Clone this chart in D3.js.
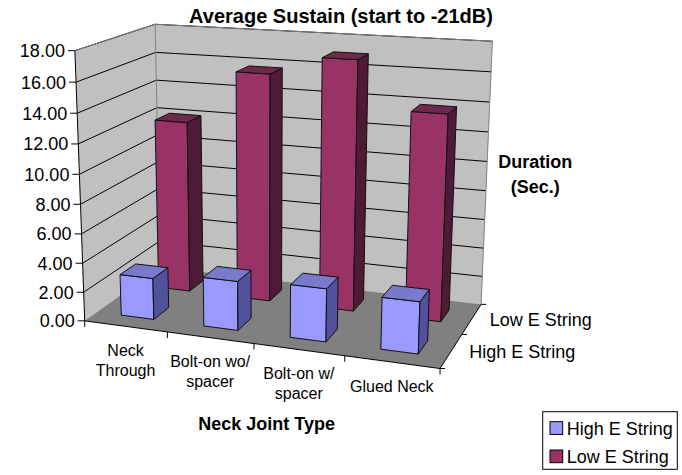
<!DOCTYPE html>
<html><head><meta charset="utf-8">
<script src="https://cdn.jsdelivr.net/npm/d3@7"></script>
<style>body{margin:0;background:#fff} svg{display:block} text{font-family:"Liberation Sans",Arial,sans-serif;fill:#000}</style>
</head><body><svg id="c" width="682" height="475"></svg>
<script>
// ---- data ----
const categories = [["Neck","Through"],["Bolt-on wo/","spacer"],["Bolt-on w/","spacer"],["Glued Neck"]];
const seriesNames = ["High E String","Low E String"];
const highE = [2.85, 3.34, 3.55, 3.42];
const lowE = [12.08, 15.77, 17.05, 13.92];
const valueTicks = [0,2,4,6,8,10,12,14,16,18];
const valueTickLabels = ["0.00","2.00","4.00","6.00","8.00","10.00","12.00","14.00","16.00","18.00"];
const titleText = "Average Sustain (start to -21dB)";
const xTitle = "Neck Joint Type";
const yTitle = ["Duration","(Sec.)"];

// ---- frame calibration (layout: plot-box points in world fractions -> page px) ----
const frameAnchors = [
  [0,0,0, 86.7,320.5],[1,0,0, 441.5,367.5],[1,0,1, 481.7,304],
  [0,1,0, 75,50],[0,1,1, 156,23.5],[1,1,1, 492,42],
  [0,16/18,1, 156,51.7],[0,10/18,1, 156,136.7],[1,10/18,1, 487.2,162],
  [0.25,0,0, 167.3,335],[0.5,0,0, 255,346],[0.75,0,0, 343,357],[1,0,0.5, 463.3,333.3],
  [0.075,0,0.15, 121.3,314.3],[0.175,0,0.15, 152.3,318.8],
  [0.325,0,0.15, 204.3,325],[0.425,0,0.15, 236.7,330],
  [0.575,0,0.15, 290.7,335],[0.675,0,0.15, 325,341.7],
  [0.825,0,0.15, 381,350],[0.925,0,0.15, 416.7,354]
];
const SX=280, SY=200, SS=200;
function gauss(M){
  const n=M.length;
  for(let c=0;c<n;c++){
    let p=c; for(let r=c+1;r<n;r++) if(Math.abs(M[r][c])>Math.abs(M[p][c])) p=r;
    [M[c],M[p]]=[M[p],M[c]];
    for(let r=0;r<n;r++){ if(r===c) continue; const f=M[r][c]/M[c][c]; for(let k=c;k<=n;k++) M[r][k]-=f*M[c][k]; }
  }
  return M.map((row,i)=>row[n]/row[i]);
}
function fit(anchors){
  const A=[],b=[];
  for(const [x,y,z,sx,sy] of anchors){
    const u=(sx-SX)/SS, v=(sy-SY)/SS;
    A.push([x,y,z,1,0,0,0,0,-u*x,-u*y,-u*z]); b.push(u);
    A.push([0,0,0,0,x,y,z,1,-v*x,-v*y,-v*z]); b.push(v);
  }
  const n=11, M=Array.from({length:n},()=>new Array(n+1).fill(0));
  A.forEach((row,r)=>{ for(let i=0;i<n;i++){ for(let j=0;j<n;j++) M[i][j]+=row[i]*row[j]; M[i][n]+=row[i]*b[r]; } });
  return gauss(M);
}
const P = fit(frameAnchors);
function proj(x,y,z){
  const d=P[8]*x+P[9]*y+P[10]*z+1;
  return [ (P[0]*x+P[1]*y+P[2]*z+P[3])/d*SS+SX, (P[4]*x+P[5]*y+P[6]*z+P[7])/d*SS+SY ];
}

// ---- scales ----
const xBand = d3.scaleBand().domain(d3.range(categories.length)).range([0,1]).paddingInner(0.6).paddingOuter(0.3);
const xEdge = d3.scaleLinear().domain([0,categories.length]).range([0,1]);
const zBand = d3.scaleBand().domain([0,1]).range([0,1]).paddingInner(0.6).paddingOuter(0.3);
const zEdge = d3.scaleLinear().domain([0,2]).range([0,1]);
const yScale = d3.scaleLinear().domain([0,18]).range([0,1]);

const svg = d3.select("#c");
const line = d3.line();
function face(pts, fill, stroke, sw){
  return svg.append("path").attr("d", line(pts.map(p=>proj(...p)))+"Z")
    .attr("fill",fill).attr("stroke",stroke||"none").attr("stroke-width",sw||1).attr("stroke-linejoin","round");
}
function seg(a,b,stroke,sw){
  const p=proj(...a), q=proj(...b);
  svg.append("line").attr("x1",p[0]).attr("y1",p[1]).attr("x2",q[0]).attr("y2",q[1]).attr("stroke",stroke).attr("stroke-width",sw||1);
}

// walls & floor
face([[0,0,0],[0,0,1],[0,1,1],[0,1,0]], "#c0c0c0");
face([[0,0,1],[1,0,1],[1,1,1],[0,1,1]], "#c0c0c0");
face([[0,0,0],[1,0,0],[1,0,1],[0,0,1]], "#808080");
valueTicks.filter(v=>v>0).forEach(v=>{
  const y=yScale(v);
  seg([0,y,0],[0,y,1],"#000",1);
  seg([0,y,1],[1,y,1],"#000",1);
});
seg([0,1,0],[0,1,1],"#808080",1);
seg([0,1,1],[1,1,1],"#808080",1);
seg([1,1,1],[1,0,1],"#808080",1);
seg([0,0,1],[0,1,1],"#808080",1);

// value axis
seg([0,0,0],[0,1,0],"#000",1);
valueTicks.forEach((v,i)=>{
  const p=proj(0,yScale(v),0);
  svg.append("line").attr("x1",p[0]-7).attr("x2",p[0]).attr("y1",p[1]).attr("y2",p[1]).attr("stroke","#000");
  svg.append("text").attr("x",p[0]-10).attr("y",p[1]+6.5).attr("text-anchor","end").attr("font-size",18).text(valueTickLabels[i]);
});
// category axis
seg([0,0,0],[1,0,0],"#000",1);
d3.range(categories.length+1).forEach(k=>{
  const p=proj(xEdge(k),0,0);
  svg.append("line").attr("x1",p[0]).attr("x2",p[0]).attr("y1",p[1]).attr("y2",p[1]+6).attr("stroke","#000");
});
categories.forEach((lines,i)=>{
  const p=proj(xEdge(i+0.5),0,0);
  const t=svg.append("text").attr("text-anchor","middle").attr("font-size",16);
  lines.forEach((s,k)=>t.append("tspan").attr("x",p[0]).attr("y",p[1]+29.5+k*20).text(s));
});
// depth (series) axis
seg([1,0,0],[1,0,1],"#000",1);
[0,1,2].forEach(k=>{
  const p=proj(1,0,zEdge(k));
  svg.append("line").attr("x1",p[0]).attr("x2",p[0]+5).attr("y1",p[1]).attr("y2",p[1]).attr("stroke","#000");
});
seriesNames.forEach((s,j)=>{
  const p=proj(1,0,zEdge(j+0.5));
  svg.append("text").attr("x",p[0]+18).attr("y",p[1]+7.5).attr("font-size",18).text(s);
});

// bars (back row first, left to right)
const seriesData=[highE,lowE];
const pal=[{front:"#9999ff",side:"#52529c",top:"#7a7acc"},{front:"#993366",side:"#4e1a36",top:"#6e2a4c"}];
[1,0].forEach(j=>{
  seriesData[j].forEach((val,i)=>{
    const x0=xBand(i), x1=x0+xBand.bandwidth(), z0=zBand(j), z1=z0+zBand.bandwidth(), y1=yScale(val);
    const c=pal[j];
    face([[x0,0,z0],[x1,0,z0],[x1,y1,z0],[x0,y1,z0]], c.front, "#111", 1);
    face([[x1,0,z0],[x1,0,z1],[x1,y1,z1],[x1,y1,z0]], c.side, "#111", 1);
    face([[x0,y1,z0],[x1,y1,z0],[x1,y1,z1],[x0,y1,z1]], c.top, "#111", 1);
  });
});

// titles
svg.append("text").attr("x",341).attr("y",23).attr("text-anchor","middle").attr("font-size",20).attr("font-weight","bold").text(titleText);
svg.append("text").attr("x",266.7).attr("y",430).attr("text-anchor","middle").attr("font-size",18).attr("font-weight","bold").text(xTitle);
const yt=svg.append("text").attr("text-anchor","middle").attr("font-size",18).attr("font-weight","bold");
yTitle.forEach((s,k)=>yt.append("tspan").attr("x",535.3).attr("y",168.3+k*25).text(s));

// legend
svg.append("rect").attr("x",542.7).attr("y",411.7).attr("width",134.6).attr("height",57.6).attr("fill","#fff").attr("stroke","#000");
seriesNames.forEach((s,j)=>{
  svg.append("rect").attr("x",550).attr("y",421.7+j*28.3).attr("width",12.7).attr("height",12.7).attr("fill",pal[j].front).attr("stroke","#000");
  svg.append("text").attr("x",566.7).attr("y",435+j*28).attr("font-size",18).text(s);
});
</script></body></html>
